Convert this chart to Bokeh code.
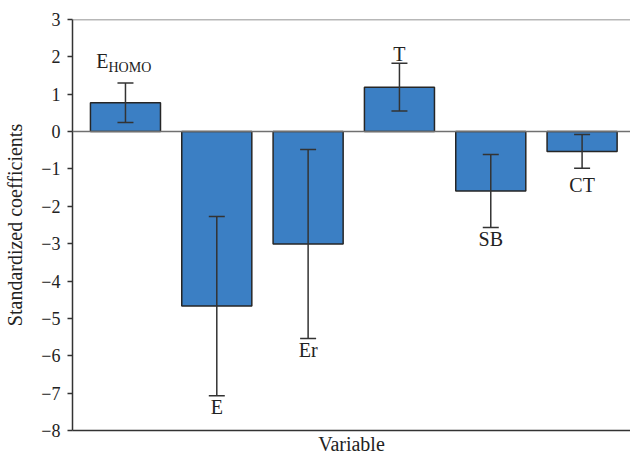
from bokeh.plotting import figure
from bokeh.models import ColumnDataSource, Range1d, Span, Whisker, TeeHead, FixedTicker
from bokeh.core.properties import value
from bokeh.embed import file_html
from bokeh.resources import INLINE

# ---- data ----
variables = ["E", "E", "Er", "T", "SB", "CT"]
subscripts = ["HOMO", "", "", "", "", ""]
coefficients = [0.77, -4.67, -3.01, 1.19, -1.59, -0.53]
errors = [0.53, 2.40, 2.53, 0.64, 0.98, 0.45]
y_ticks = [3, 2, 1, 0, -1, -2, -3, -4, -5, -6, -7, -8]

FONT = "Liberation Serif"
x = list(range(len(coefficients)))
upper = [c + e for c, e in zip(coefficients, errors)]
lower = [c - e for c, e in zip(coefficients, errors)]

p = figure(width=630, height=457, output_backend="svg", toolbar_location=None,
           x_range=Range1d(-0.58, 5.53), y_range=Range1d(-8, 3),
           min_border_left=72, min_border_right=0, min_border_top=19, min_border_bottom=26)
p.outline_line_color = None
p.grid.visible = False
p.background_fill_color = "white"
p.border_fill_color = "white"

# bars
src = ColumnDataSource(dict(x=x, top=coefficients, upper=upper, lower=lower))
p.vbar(x="x", top="top", bottom=0, width=0.767, source=src,
       fill_color="#3b7fc4", line_color="#262626", line_width=1.5)

# zero line and top line
p.add_layout(Span(location=0, dimension="width", line_color="#707070", line_width=1.5))
p.add_layout(Span(location=3, dimension="width", line_color="#707070", line_width=1.5))

# error bars (drawn over the bars)
w = Whisker(base="x", upper="upper", lower="lower", source=src, level="overlay",
            line_color="#333333", line_width=1.5,
            upper_head=TeeHead(size=16, line_color="#333333", line_width=1.5),
            lower_head=TeeHead(size=16, line_color="#333333", line_width=1.5))
p.add_layout(w)

# variable labels
for i, (c, name, sub) in enumerate(zip(coefficients, variables, subscripts)):
    if c >= 0:
        yi = upper[i]
        if sub:
            p.text(x=[i], y=[yi], text=[name], text_font=value(FONT), text_font_size="20px",
                   text_align="right", text_baseline="alphabetic", x_offset=-17, y_offset=-22,
                   text_color="#222222")
            p.text(x=[i], y=[yi], text=[sub], text_font=value(FONT), text_font_size="14px",
                   text_align="left", text_baseline="alphabetic", x_offset=-17, y_offset=-16,
                   text_color="#222222")
        else:
            p.text(x=[i], y=[yi], text=[name], text_font=value(FONT), text_font_size="20px",
                   text_align="center", text_baseline="alphabetic", y_offset=-9,
                   text_color="#222222")
    else:
        yi = lower[i]
        p.text(x=[i], y=[yi], text=[name], text_font=value(FONT), text_font_size="20px",
               text_align="center", text_baseline="top", y_offset=(6 if name == "CT" else 0),
               text_color="#222222")

# y axis
p.yaxis.ticker = FixedTicker(ticks=y_ticks)
p.yaxis.major_label_overrides = {t: (("\u2212" + str(abs(t))) if t < 0 else str(t)) for t in y_ticks}
p.yaxis.axis_label = "Standardized coefficients"
p.yaxis.axis_label_text_font = FONT
p.yaxis.axis_label_text_font_style = "normal"
p.yaxis.axis_label_text_font_size = "20px"
p.yaxis.axis_label_text_color = "#222222"
p.yaxis.axis_label_standoff = 12
p.yaxis.major_label_text_font = FONT
p.yaxis.major_label_text_font_size = "18px"
p.yaxis.major_label_text_color = "#222222"
p.yaxis.major_label_standoff = 7
p.yaxis.major_tick_out = 5
p.yaxis.major_tick_in = 0
p.yaxis.minor_tick_line_color = None
p.yaxis.axis_line_color = "#333333"
p.yaxis.axis_line_width = 1.5
p.yaxis.major_tick_line_color = "#333333"
p.yaxis.major_tick_line_width = 1.5

# x axis
p.xaxis.ticker = FixedTicker(ticks=[])
p.xaxis.axis_label = "Variable"
p.xaxis.axis_label_text_font = FONT
p.xaxis.axis_label_text_font_style = "normal"
p.xaxis.axis_label_text_font_size = "20px"
p.xaxis.axis_label_text_color = "#222222"
p.xaxis.axis_label_standoff = 2
p.xaxis.major_label_text_font_size = "0px"
p.xaxis.major_label_standoff = 0
p.xaxis.major_tick_out = 0
p.xaxis.major_tick_in = 0
p.xaxis.minor_tick_line_color = None
p.xaxis.axis_line_color = "#333333"
p.xaxis.axis_line_width = 1.5

open("out.html", "w").write(file_html(p, INLINE))
